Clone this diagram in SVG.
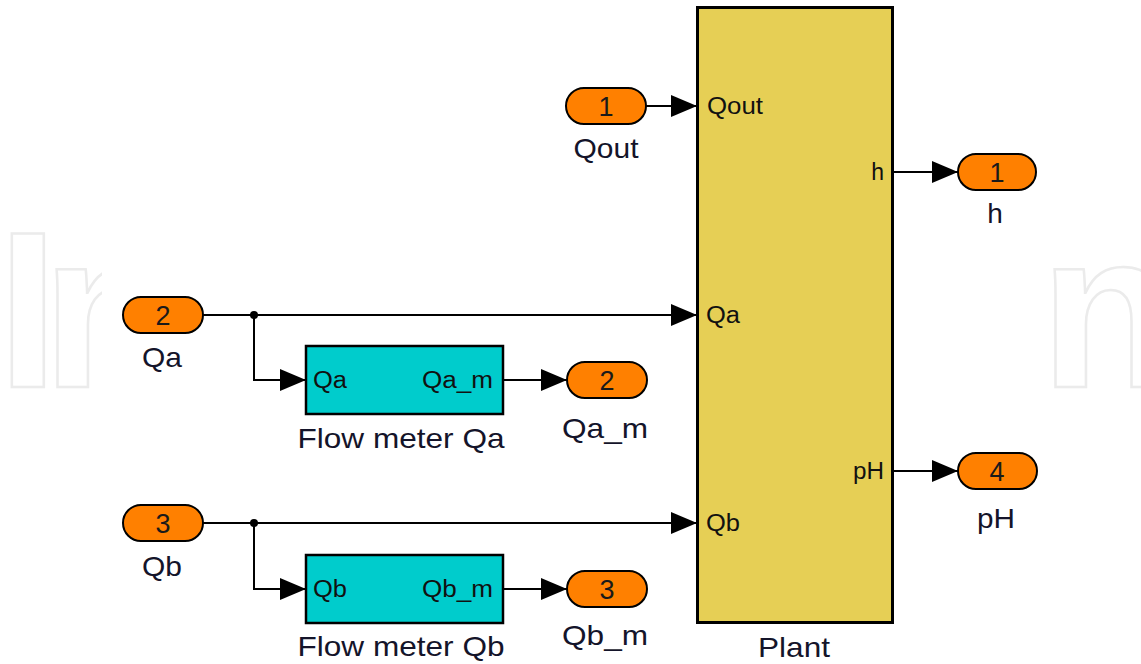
<svg xmlns="http://www.w3.org/2000/svg" width="1141" height="664" viewBox="0 0 1141 664">
<defs>
<style>
.wm{font-family:"Liberation Sans",Arial,sans-serif;font-size:222px;font-weight:bold;fill:none;stroke:#ebebeb;stroke-width:2.5}
.pill{fill:#ff8000;stroke:#000;stroke-width:2}
.meter{fill:#00cccc;stroke:#000;stroke-width:2.5}
.plant{fill:#e6cf55;stroke:#000;stroke-width:3}
.num{font-family:"Liberation Sans",Arial,sans-serif;font-size:27px;fill:#1a1a1a;text-anchor:middle}
.name{font-family:"Liberation Sans",Arial,sans-serif;font-size:28px;fill:#14142a;text-anchor:middle}
.port{font-family:"Liberation Sans",Arial,sans-serif;font-size:23px;fill:#111}
.end{text-anchor:end}
.wire{fill:none;stroke:#000;stroke-width:2;marker-end:url(#arr)}
</style>
<clipPath id="wmL"><rect x="0" y="200" width="102" height="200"/></clipPath>
<clipPath id="wmR"><rect x="1050" y="200" width="91" height="200"/></clipPath>
<marker id="arr" markerUnits="userSpaceOnUse" markerWidth="27" markerHeight="24" refX="26" refY="12" orient="auto" viewBox="0 0 27 24">
<path d="M0,1 L26,12 L0,23 Z" fill="#000"/>
</marker>
</defs>
<rect width="1141" height="664" fill="#fff"/>
<g id="watermark">
<g clip-path="url(#wmL)">
<text class="wm" x="-3" y="387">I</text>
<text class="wm" x="42" y="387">n</text>
</g>
<g clip-path="url(#wmR)">
<text class="wm" x="1040" y="387">n</text>
</g>
</g>
<g id="connectors">
<line class="wire" x1="646" y1="106" x2="697" y2="106"/>
<line class="wire" x1="203" y1="315" x2="697" y2="315"/>
<polyline class="wire" points="254,315 254,380 306,380"/>
<circle cx="254" cy="315" r="4" fill="#000"/>
<line class="wire" x1="503" y1="380" x2="567" y2="380"/>
<line class="wire" x1="203" y1="523" x2="697" y2="523"/>
<polyline class="wire" points="254,523 254,589 306,589"/>
<circle cx="254" cy="523" r="4" fill="#000"/>
<line class="wire" x1="503" y1="589" x2="567" y2="589"/>
<line class="wire" x1="893" y1="172" x2="958" y2="172"/>
<line class="wire" x1="893" y1="471" x2="958" y2="471"/>
</g>
<g id="plant">
<rect class="plant" x="697.5" y="7.5" width="195" height="615"/>
<text class="port" x="707" y="114" textLength="56" lengthAdjust="spacingAndGlyphs">Qout</text>
<text class="port" x="706" y="323" textLength="34" lengthAdjust="spacingAndGlyphs">Qa</text>
<text class="port" x="706" y="531" textLength="34" lengthAdjust="spacingAndGlyphs">Qb</text>
<text class="port end" x="884" y="180">h</text>
<text class="port end" x="884" y="479" textLength="31" lengthAdjust="spacingAndGlyphs">pH</text>
<text class="name" x="794" y="657" textLength="72" lengthAdjust="spacingAndGlyphs">Plant</text>
</g>
<g id="in-qout">
<rect class="pill" x="566" y="88" width="80" height="36" rx="18"/>
<text class="num" x="606" y="116">1</text>
<text class="name" x="606" y="158" textLength="65" lengthAdjust="spacingAndGlyphs">Qout</text>
</g>
<g id="in-qa">
<rect class="pill" x="123" y="297" width="80" height="36" rx="18"/>
<text class="num" x="163" y="325">2</text>
<text class="name" x="162" y="367" textLength="40" lengthAdjust="spacingAndGlyphs">Qa</text>
</g>
<g id="in-qb">
<rect class="pill" x="123" y="505" width="80" height="36" rx="18"/>
<text class="num" x="163" y="533">3</text>
<text class="name" x="162" y="576" textLength="40" lengthAdjust="spacingAndGlyphs">Qb</text>
</g>
<g id="flow-meter-qa">
<rect class="meter" x="306" y="346" width="197" height="68"/>
<text class="port" x="313" y="388" textLength="34" lengthAdjust="spacingAndGlyphs">Qa</text>
<text class="port end" x="493" y="388" textLength="71" lengthAdjust="spacingAndGlyphs">Qa_m</text>
<text class="name" x="401" y="448" textLength="207" lengthAdjust="spacingAndGlyphs">Flow meter Qa</text>
</g>
<g id="flow-meter-qb">
<rect class="meter" x="306" y="555" width="197" height="68"/>
<text class="port" x="313" y="597" textLength="34" lengthAdjust="spacingAndGlyphs">Qb</text>
<text class="port end" x="493" y="597" textLength="71" lengthAdjust="spacingAndGlyphs">Qb_m</text>
<text class="name" x="401" y="656" textLength="207" lengthAdjust="spacingAndGlyphs">Flow meter Qb</text>
</g>
<g id="out-qa-m">
<rect class="pill" x="567" y="362" width="80" height="36" rx="18"/>
<text class="num" x="607" y="390">2</text>
<text class="name" x="605" y="438" textLength="86" lengthAdjust="spacingAndGlyphs">Qa_m</text>
</g>
<g id="out-qb-m">
<rect class="pill" x="567" y="571" width="80" height="36" rx="18"/>
<text class="num" x="607" y="599">3</text>
<text class="name" x="605" y="645" textLength="86" lengthAdjust="spacingAndGlyphs">Qb_m</text>
</g>
<g id="out-h">
<rect class="pill" x="958" y="154" width="78" height="36" rx="18"/>
<text class="num" x="997" y="182">1</text>
<text class="name" x="995" y="223">h</text>
</g>
<g id="out-ph">
<rect class="pill" x="958" y="453" width="79" height="36" rx="18"/>
<text class="num" x="997" y="481">4</text>
<text class="name" x="996" y="528" textLength="38" lengthAdjust="spacingAndGlyphs">pH</text>
</g>
</svg>
